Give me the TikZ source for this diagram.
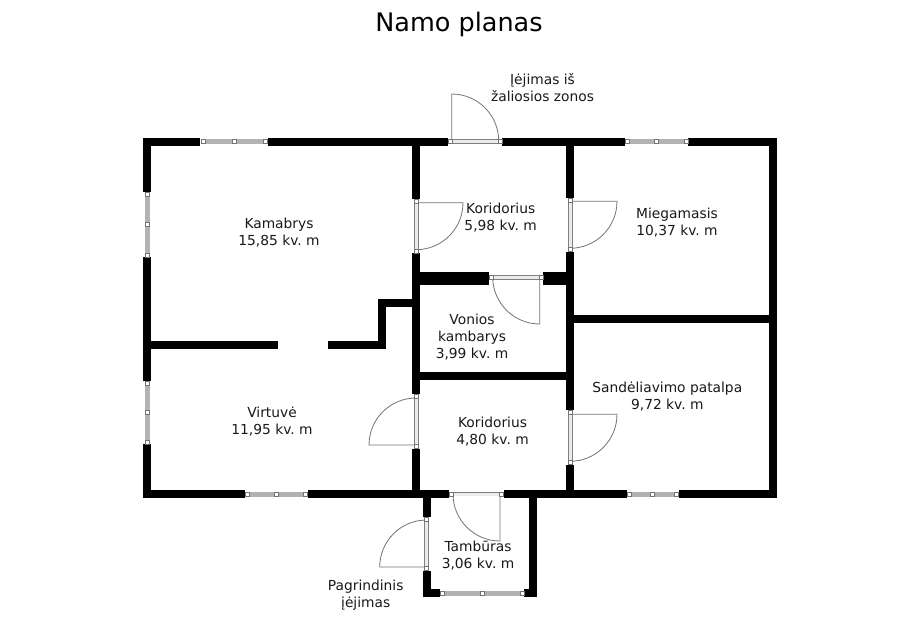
\documentclass[tikz,border=0pt]{standalone}
\usepackage{fontspec}
\setmainfont{DejaVu Sans}
\usetikzlibrary{calc}
\frenchspacing
\tikzset{
  wallline/.style={line width=8pt,black,line join=miter},
  thickwall/.style={line width=13pt,black},
  swing/.style={line width=0.8pt,black!55},
  pane/.style={line width=5pt,black!30},
  frame/.style={line width=0.9pt,black!50,double=black!8,double distance=3pt},
  stub/.style={draw=black!55,line width=0.6pt,fill=white,minimum size=4pt,inner sep=0pt},
  roomlabel/.style={align=center,font=\fontsize{13.8}{17}\selectfont,text=black!90}
}
\begin{document}
\begin{tikzpicture}[x=1pt,y=-1pt]
       \useasboundingbox (0,0) rectangle (917,623);

       \node (title) at (459,24.5) {\fontsize{25.5}{30}\selectfont Namo planas};

       % door swings
       \foreach \cx/\cy/\sa/\ea in {451.7/141/90/0, 416/202.7/0/-90, 570/201.3/0/-90, 539.7/277/-90/-180,
                                    416/445/180/90, 570/414.3/0/-90, 500/494/-90/-180, 426.7/567/180/90}
         \draw[swing] (\cx,\cy) -- ++(\sa:47pt) arc[start angle=\sa,end angle=\ea,radius=47pt];

       % walls
       \draw[wallline] (147,192) -- (147,141.5) -- (200.3,141.5);
       \draw[wallline] (267.7,141.5) -- (448,141.5);
       \draw[wallline] (502.3,141.5) -- (625,141.5);
       \draw[wallline] (688.3,141.5) -- (773,141.5) -- (773,494) -- (678.7,494);
       \draw[wallline] (626.7,494) -- (503.7,494);
       \draw[wallline] (449,494) -- (308,494);
       \draw[wallline] (245,494) -- (147,494) -- (147,444.3);
       \draw[wallline] (147,381) -- (147,257.3);
       \draw[wallline] (147,345) -- (277.7,345);
       \draw[wallline] (328,345) -- (382.3,345) -- (382.3,303.3) -- (416.3,303.3);
       \draw[wallline] (416.3,141.5) -- (416.3,198.7);
       \draw[wallline] (416.3,253.3) -- (416.3,394.3);
       \draw[wallline] (416.3,448.7) -- (416.3,494);
       \draw[wallline] (570.3,141.5) -- (570.3,197.7);
       \draw[wallline] (570.3,252) -- (570.3,410.3);
       \draw[wallline] (570.3,465) -- (570.3,494);
       \draw[wallline] (416.3,376.3) -- (570.3,376.3);
       \draw[wallline] (570.3,319) -- (773,319);
       \draw[wallline] (426.7,494) -- (426.7,516.7);
       \draw[wallline] (426.7,571) -- (426.7,593.3) -- (440.3,593.3);
       \draw[wallline] (524,593.3) -- (532.5,593.3) -- (532.5,494);
       \draw[thickwall] (416.3,278.8) -- (489.3,278.8);
       \draw[thickwall] (543.3,278.8) -- (570.3,278.8);

       % windows
       \foreach \xa/\ya/\xb/\yb in {203/141.5/265.5/141.5, 627.5/141.5/686/141.5, 147/194.5/147/255,
                                    147/383.5/147/442, 247.5/494/305.5/494, 629/494/676.5/494, 442.5/593.3/522/593.3}
       {
         \draw[pane] (\xa,\ya) -- (\xb,\yb);
         \node[stub] at (\xa,\ya) {};
         \node[stub] at (\xb,\yb) {};
         \node[stub] at ($(\xa,\ya)!0.5!(\xb,\yb)$) {};
       }

       % door frames
       \foreach \xa/\ya/\xb/\yb in {450/141.5/500/141.5, 416.3/201/416.3/251, 570.3/200/570.3/249.5,
                                    491.5/277.5/541/277.5, 416.3/396.5/416.3/446.5, 570.3/412.5/570.3/462.5,
                                    451.5/494/501.5/494, 426.7/519/426.7/568.5}
       {
         \draw[frame] (\xa,\ya) -- (\xb,\yb);
         \node[stub] at (\xa,\ya) {};
         \node[stub] at (\xb,\yb) {};
       }

       % labels
       \node[roomlabel] (kamabrys)  at (279,233)     {Kamabrys\\15,85 kv. m};
       \node[roomlabel] (koridA)    at (500.7,217.5) {Koridorius\\5,98 kv. m};
       \node[roomlabel] (miegamas)  at (677,223)     {Miegamasis\\10,37 kv. m};
       \node[roomlabel] (iejimasA)  at (542.5,88)    {Įėjimas iš\\žaliosios zonos};
       \node[roomlabel] (vonia)     at (472,337)     {Vonios\\kambarys\\3,99 kv. m};
       \node[roomlabel] (virtuve)   at (272,422)     {Virtuvė\\11,95 kv. m};
       \node[roomlabel] (koridB)    at (492.5,432)   {Koridorius\\4,80 kv. m};
       \node[roomlabel] (sandelis)  at (667.3,397)   {Sandėliavimo patalpa\\9,72 kv. m};
       \node[roomlabel] (tamburas)  at (478,556)     {Tambūras\\3,06 kv. m};
       \node[roomlabel] (iejimasB)  at (365.7,595.5) {Pagrindinis\\įėjimas};
\end{tikzpicture}
\end{document}
